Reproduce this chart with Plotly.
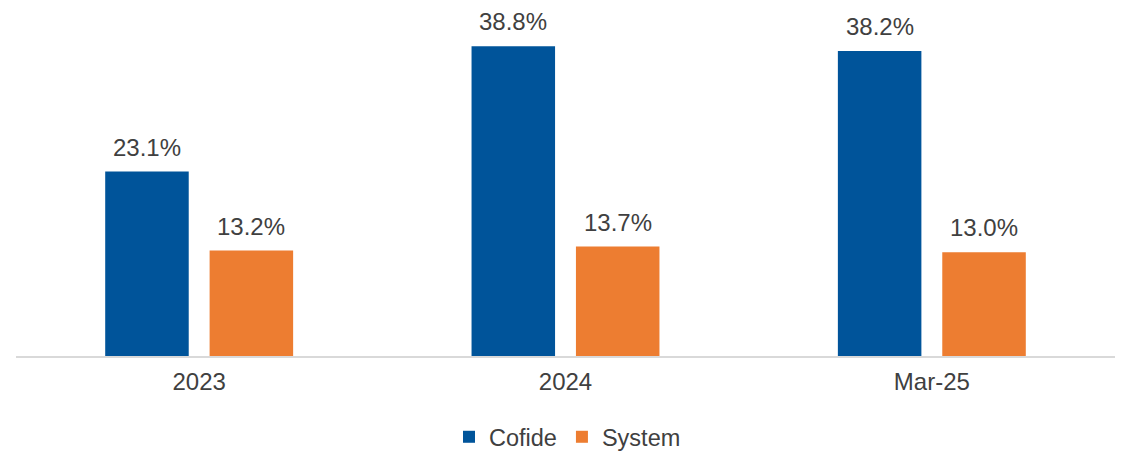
import plotly.graph_objects as go

categories = ["2023", "2024", "Mar-25"]
cofide = [23.1, 38.8, 38.2]
system = [13.2, 13.7, 13.0]
series_names = ["Cofide", "System"]
series_colors = ["#00549A", "#ED7D31"]

TEXT = "#404040"
FONT = "Liberation Sans, Arial, sans-serif"
FS = 24
FS_LEG = 23.5

W, H = 1127, 455
ML, MR, MT, MB = 8, 20, 12, 107
BARGAP = 0.43
GROUPGAP = 0.2

fig = go.Figure()
for name, vals, col in zip(series_names, [cofide, system], series_colors):
    fig.add_trace(go.Bar(
        x=categories, y=vals, name=name, marker_color=col,
        marker_line_width=0, hoverinfo="skip",
    ))

# value labels above bars (category index positions, offset to each bar of the group)
plot_w = W - ML - MR
cat_w = plot_w / len(categories)
slot = cat_w * (1 - BARGAP) / 2
offsets = [-slot / 2, slot / 2]
annotations = []
for vals, off in zip([cofide, system], offsets):
    for i, v in enumerate(vals):
        annotations.append(dict(
            x=i, y=v, xref="x", yref="y", text=f"{v:.1f}%",
            showarrow=False, xanchor="center", yanchor="bottom",
            xshift=off, yshift=9,
            font=dict(family=FONT, size=FS, color=TEXT),
        ))

fig.update_layout(
    width=W, height=H,
    margin=dict(l=ML, r=MR, t=MT, b=MB),
    paper_bgcolor="white", plot_bgcolor="white",
    barmode="group", bargap=BARGAP, bargroupgap=GROUPGAP,
    font=dict(family=FONT, size=FS, color=TEXT),
    annotations=annotations,
    showlegend=True,
    legend=dict(orientation="h", xref="container", yref="container",
                x=0.5 - 4 / W, xanchor="center", y=1 - 429 / H, yanchor="middle",
                font=dict(family=FONT, size=FS_LEG, color=TEXT),
                itemwidth=30, traceorder="normal"),
    xaxis=dict(type="category", categoryorder="array", categoryarray=categories,
               range=[-0.5, len(categories) - 0.5], automargin=False,
               showline=True, linecolor="#D9D9D9", linewidth=1.5,
               ticks="", showgrid=False, zeroline=False, ticklabelstandoff=3,
               tickfont=dict(family=FONT, size=FS, color=TEXT)),
    yaxis=dict(range=[0, 42.08], visible=False, showgrid=False, zeroline=False),
)

fig.write_html("out.html")
